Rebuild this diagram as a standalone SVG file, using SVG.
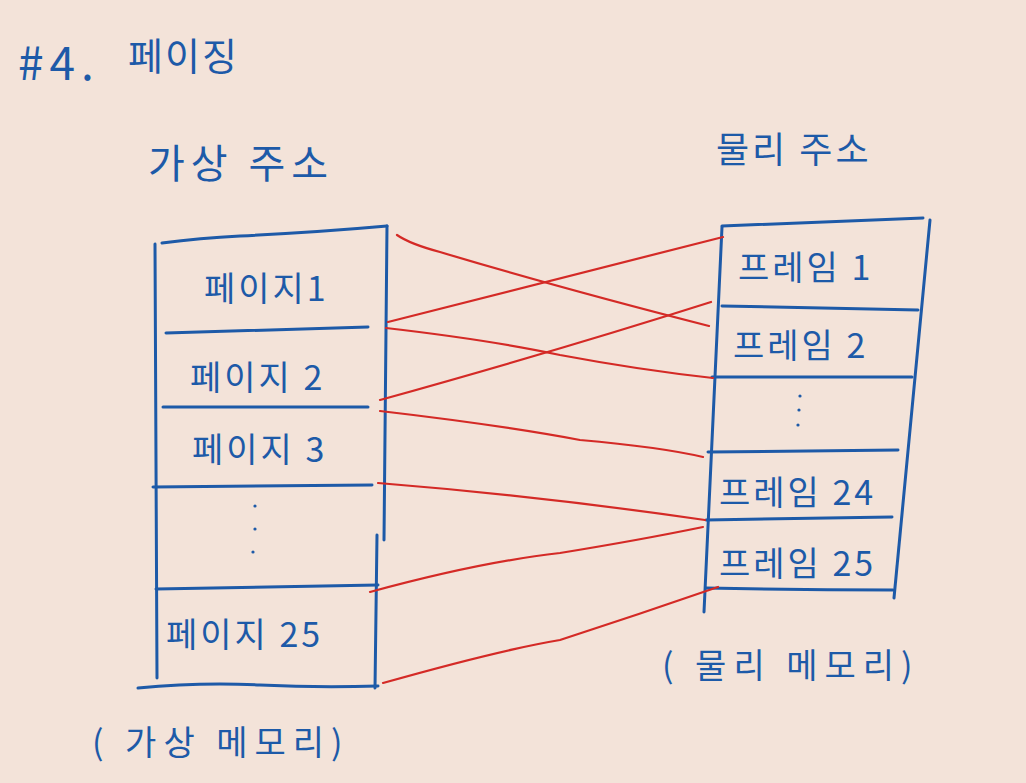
<svg xmlns="http://www.w3.org/2000/svg" width="1026" height="783" viewBox="0 0 1026 783">
<style>
.t{font-family:"Noto Sans CJK KR","Noto Sans",sans-serif;fill:#1d5aa8;font-weight:400}
.l{font-size:34px;letter-spacing:3px}
.b{fill:none;stroke:#1d5aa8;stroke-width:3;stroke-linecap:round;stroke-linejoin:round}
.r{fill:none;stroke:#d42a26;stroke-width:2.2;stroke-linecap:round}
.d{fill:#1d5aa8}
</style>
<rect width="1026" height="783" fill="#f3e3d9"/>
<g id="title">
<text class="t" x="18" y="80" font-size="46" letter-spacing="6">#4.</text>
<text class="t" x="128" y="70" font-size="38" letter-spacing="2">페이징</text>
</g>
<g id="virtual-title"><text class="t" x="148" y="178" font-size="40" letter-spacing="6">가상  주소</text></g>
<g id="physical-title"><text class="t" x="716" y="163" font-size="36" letter-spacing="3">물리 주소</text></g>
<g id="virtual-memory">
<path class="b" d="M155 244 L157 678"/>
<path class="b" d="M387 226 L384 540"/>
<path class="b" d="M377 535 L375 688"/>
<path class="b" d="M162 243 Q200 238 240 236 Q320 232 387 226"/>
<path class="b" d="M166 333 L368 327"/>
<path class="b" d="M163 407 L368 407"/>
<path class="b" d="M153 487 L372 485"/>
<path class="b" d="M156 589 L378 585"/>
<path class="b" d="M138 688 Q200 682 260 685 Q320 688 378 686"/>
<text class="t l" x="204" y="301">페이지1</text>
<text class="t l" x="190" y="390">페이지 2</text>
<text class="t l" x="192" y="462">페이지 3</text>
<circle class="d" cx="255" cy="506" r="1.6"/><circle class="d" cx="255" cy="529" r="1.6"/><circle class="d" cx="253" cy="552" r="1.6"/>
<text class="t l" x="166" y="647">페이지 25</text>
<text class="t" x="92" y="755" font-size="34" letter-spacing="7">( 가상  메모리)</text>
</g>
<g id="physical-memory">
<path class="b" d="M722 227 L704 612"/>
<path class="b" d="M930 220 L894 598"/>
<path class="b" d="M722 226 Q820 222 923 218"/>
<path class="b" d="M722 306 L918 310"/>
<path class="b" d="M712 377 L912 377"/>
<path class="b" d="M708 452 L898 450"/>
<path class="b" d="M706 520 L892 517"/>
<path class="b" d="M706 588 Q800 590 893 590"/>
<text class="t l" x="738" y="280">프레임 1</text>
<text class="t l" x="733" y="358">프레임 2</text>
<circle class="d" cx="800" cy="396" r="1.6"/><circle class="d" cx="799" cy="410" r="1.6"/><circle class="d" cx="798" cy="425" r="1.6"/>
<text class="t l" x="719" y="505">프레임 24</text>
<text class="t l" x="719" y="576">프레임 25</text>
<text class="t" x="662" y="678" font-size="34" letter-spacing="7">( 물리  메모리)</text>
</g>
<g id="connectors">
<path class="r" d="M397 235 Q410 244 440 252 Q560 288 709 326"/>
<path class="r" d="M388 322 Q540 283 723 237"/>
<path class="r" d="M386 328 Q490 340 560 355 Q640 370 713 378"/>
<path class="r" d="M380 400 Q560 350 711 302"/>
<path class="r" d="M380 411 Q500 425 580 440 Q660 447 703 457"/>
<path class="r" d="M378 483 Q540 496 705 520"/>
<path class="r" d="M370 592 Q480 562 560 553 Q640 540 703 527"/>
<path class="r" d="M383 683 Q500 650 560 640 Q640 614 718 587"/>
</g>
</svg>
